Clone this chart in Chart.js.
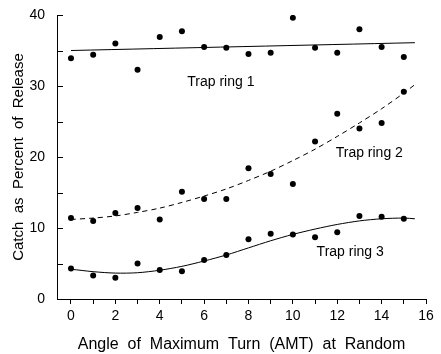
<!DOCTYPE html>
<html>
<head>
<meta charset="utf-8">
<script src="https://cdn.jsdelivr.net/npm/chart.js@4.4.1/dist/chart.umd.min.js"></script>
<style>
    html, body { margin: 0; padding: 0; background: #fff; }
    #wrap { width: 441px; height: 354px; }
</style>
</head>
<body>
<div id="wrap"><canvas id="trapChart"></canvas></div>
<script>
// observed catch per angle
const angles = [0, 1, 2, 3, 4, 5, 6, 7, 8, 9, 10, 11, 12, 13, 14, 15];
const ring1 = [33.9, 34.4, 36.0, 32.3, 36.9, 37.7, 35.5, 35.4, 34.5, 34.7, 39.6, 35.4, 34.7, 38.0, 35.5, 34.1];
const ring2 = [11.4, 11.0, 12.1, 12.8, 11.2, 15.1, 14.1, 14.1, 18.4, 17.6, 16.2, 22.2, 26.1, 24.0, 24.8, 29.2];
const ring3 = [4.3, 3.3, 3.0, 5.0, 4.1, 3.9, 5.5, 6.2, 8.4, 9.2, 9.1, 8.7, 9.4, 11.7, 11.6, 11.3];

// fitted curves
const fitX1 = [0, 15.5];
const fit1 = [35.0, 36.1];
const fitX = [0, 1, 2, 3, 4, 5, 6, 7, 8, 9, 10, 11, 12, 13, 14, 15, 15.5];
const fit2 = [11.2, 11.4, 11.7, 12.2, 12.8, 13.6, 14.5, 15.5, 16.7, 18.0, 19.5, 21.1, 22.9, 24.8, 26.8, 29.0, 30.2];
const fit3 = [4.2, 3.85, 3.65, 3.7, 4.05, 4.6, 5.35, 6.2, 7.2, 8.2, 9.1, 9.85, 10.5, 11.0, 11.3, 11.4, 11.3];

const xTicks = [0, 1, 2, 3, 4, 5, 6, 7, 8, 9, 10, 11, 12, 13, 14, 15, 16];
const yTicks = [0, 5, 10, 15, 20, 25, 30, 35, 40];

const ringLabels = ['Trap ring 1', 'Trap ring 2', 'Trap ring 3'];
const labelX = [5.24, 11.93, 11.07];
const labelY = [30.6, 20.6, 6.6];

const FONT = "'Liberation Sans', Arial, sans-serif";

function pairs(xs, ys) {
    return xs.map((x, i) => ({ x: x, y: ys[i] }));
}

const innerTicks = {
    id: 'innerTicks',
    afterDraw(chart) {
        const ctx = chart.ctx;
        const ys = chart.scales.y;
        const xs = chart.scales.x;
        const left = chart.chartArea.left;
        ctx.save();
        ctx.strokeStyle = '#000';
        ctx.lineWidth = 1;
        yTicks.forEach(v => {
            const py = Math.round(ys.getPixelForValue(v)) + 0.5;
            ctx.beginPath();
            ctx.moveTo(left, py);
            ctx.lineTo(left + 6, py);
            ctx.stroke();
        });
        // curve labels
        ctx.fillStyle = '#000';
        ctx.font = '14px ' + FONT;
        ctx.textBaseline = 'middle';
        ctx.textAlign = 'left';
        ringLabels.forEach((t, i) => {
            ctx.fillText(t, xs.getPixelForValue(labelX[i]), ys.getPixelForValue(labelY[i]));
        });
        ctx.restore();
    }
};

const dot = { showLine: false, pointRadius: 3, pointHoverRadius: 3, pointBackgroundColor: '#000', pointBorderWidth: 0, borderColor: '#000' };
const curve = { showLine: true, pointRadius: 0, borderColor: '#000', borderWidth: 1, tension: 0.3 };

const ctx = document.getElementById('trapChart').getContext('2d');
const trapChart = new Chart(ctx, {
    type: 'scatter',
    data: {
        datasets: [
            Object.assign({ data: pairs(angles, ring1) }, dot),
            Object.assign({ data: pairs(angles, ring2) }, dot),
            Object.assign({ data: pairs(angles, ring3) }, dot),
            Object.assign({ data: pairs(fitX1, fit1) }, curve),
            Object.assign({ data: pairs(fitX, fit2), borderDash: [5, 4] }, curve),
            Object.assign({ data: pairs(fitX, fit3) }, curve)
        ]
    },
    options: {
        responsive: true,
        maintainAspectRatio: false,
        animation: false,
        events: [],
        layout: {
            padding: { left: 0, right: 15, top: 15, bottom: 0 }
        },
        plugins: {
            legend: { display: false },
            tooltip: { enabled: false }
        },
        scales: {
            x: {
                type: 'linear',
                min: -0.63,
                max: 16,
                afterBuildTicks: (axis) => { axis.ticks = xTicks.map(v => ({ value: v })); },
                afterFit: (axis) => { axis.height = 55; },
                grid: { drawOnChartArea: false, drawTicks: true, tickLength: 5, color: '#000' },
                border: { display: true, color: '#000', width: 1 },
                ticks: {
                    color: '#000',
                    padding: 4,
                    maxRotation: 0,
                    autoSkip: false,
                    font: { family: FONT, size: 14 },
                    callback: (v) => (v % 2 === 0 ? v : '')
                },
                title: {
                    display: true,
                    text: 'Angle  of  Maximum  Turn  (AMT)  at  Random',
                    color: '#000',
                    font: { family: FONT, size: 16 },
                    padding: { top: 2, bottom: 0 }
                }
            },
            y: {
                type: 'linear',
                min: 0,
                max: 40,
                afterBuildTicks: (axis) => { axis.ticks = yTicks.map(v => ({ value: v })); },
                afterFit: (axis) => { axis.width = 57; },
                grid: { display: false },
                border: { display: true, color: '#000', width: 1 },
                ticks: {
                    color: '#000',
                    padding: 4,
                    autoSkip: false,
                    font: { family: FONT, size: 14 },
                    callback: (v) => (v % 10 === 0 ? v : '')
                },
                title: {
                    display: true,
                    text: 'Catch  as  Percent  of  Release',
                    color: '#000',
                    font: { family: FONT, size: 15 },
                    padding: { top: 10, bottom: 2 }
                }
            }
        }
    },
    plugins: [innerTicks]
});
</script>
</body>
</html>
